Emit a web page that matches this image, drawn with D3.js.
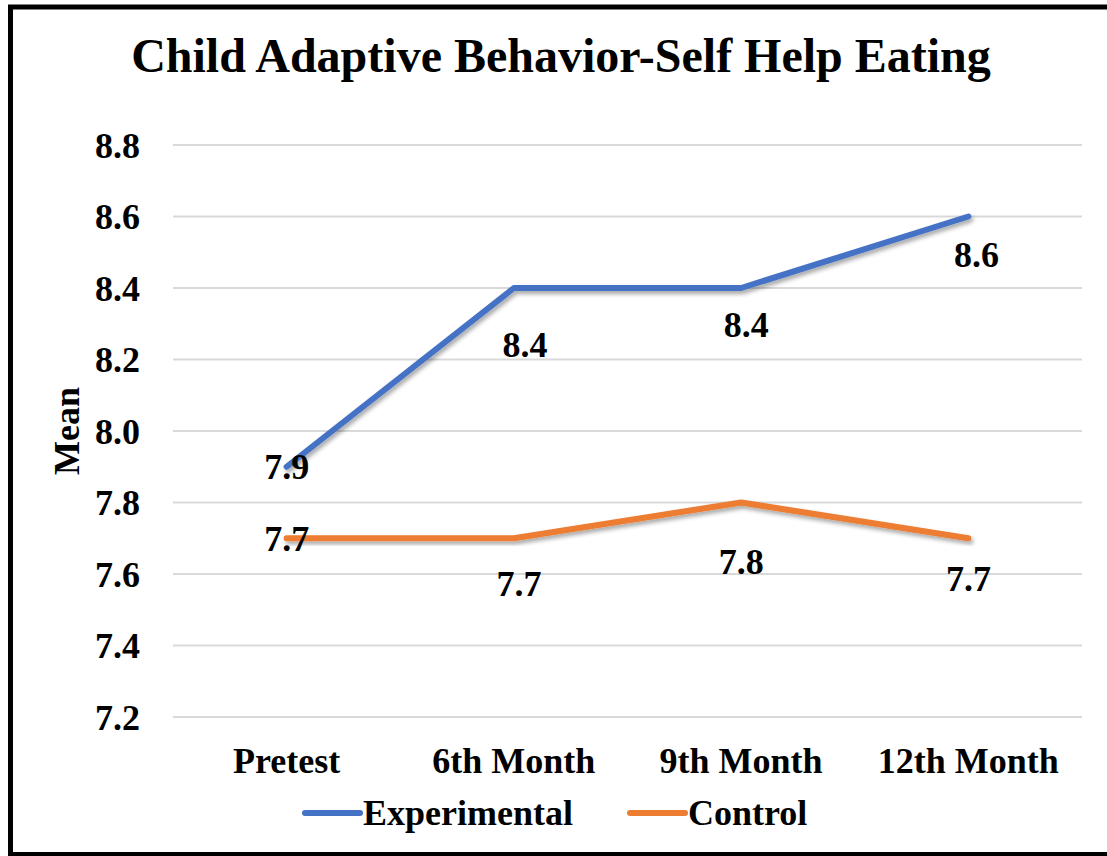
<!DOCTYPE html>
<html>
<head>
<meta charset="utf-8">
<title>Child Adaptive Behavior-Self Help Eating</title>
<script src="https://cdn.jsdelivr.net/npm/d3@7"></script>
<style>
  html, body { margin: 0; padding: 0; background: #fff; }
  svg { display: block; }
</style>
</head>
<body>
<svg id="chart" width="1107" height="856"></svg>
<script>
// Measurement occasions and group means
const categories = ["Pretest", "6th Month", "9th Month", "12th Month"];
const experimental = [7.9, 8.4, 8.4, 8.6];
const control = [7.7, 7.7, 7.8, 7.7];
const yTicks = [7.2, 7.4, 7.6, 7.8, 8.0, 8.2, 8.4, 8.6, 8.8];
const seriesNames = ["Experimental", "Control"];

const W = 1107, H = 856;
const FONT = "Liberation Serif";
const plot = { left: 173, right: 1082, top: 145, bottom: 717 };

const svg = d3.select("#chart")
  .attr("font-family", FONT).attr("font-weight", "bold");

// soft shadow under the series lines
const defs = svg.append("defs");
const shadow = defs.append("filter").attr("id", "lineShadow")
  .attr("x", "-10%").attr("y", "-10%").attr("width", "120%").attr("height", "130%");
shadow.append("feDropShadow")
  .attr("dx", 2).attr("dy", 3).attr("stdDeviation", 2)
  .attr("flood-color", "#000").attr("flood-opacity", 0.35);

svg.append("rect").attr("width", W).attr("height", H).attr("fill", "#fff");

const x = d3.scaleBand().domain(categories).range([plot.left, plot.right]);
const y = d3.scaleLinear().domain([7.2, 8.8]).range([plot.bottom, plot.top]);
const cx = c => x(c) + x.bandwidth() / 2;

// horizontal gridlines
svg.append("g").selectAll("line").data(yTicks).join("line")
  .attr("x1", plot.left).attr("x2", plot.right)
  .attr("y1", d => y(d)).attr("y2", d => y(d))
  .attr("stroke", "#d9d9d9").attr("stroke-width", 2);

// y axis labels
const yAxis = svg.append("g")
  .attr("transform", `translate(${plot.left - 33},0)`)
  .call(d3.axisLeft(y).tickValues(yTicks).tickFormat(d3.format(".1f")).tickSize(0).tickPadding(0));
yAxis.attr("font-family", FONT).attr("font-size", 36).attr("font-weight", "bold");
yAxis.select(".domain").remove();
yAxis.selectAll("text").attr("dy", "0.34em").attr("fill", "#000");

// x axis labels
const xAxis = svg.append("g")
  .attr("transform", `translate(0,${plot.bottom})`)
  .call(d3.axisBottom(x).tickSize(0).tickPadding(0));
xAxis.attr("font-family", FONT).attr("font-size", 36).attr("font-weight", "bold");
xAxis.select(".domain").remove();
xAxis.selectAll("text").attr("y", 56).attr("dy", 0).attr("fill", "#000");

// title and axis title
svg.append("text").attr("x", 561).attr("y", 72).attr("text-anchor", "middle")
  .attr("font-size", 48).text("Child Adaptive Behavior-Self Help Eating");
svg.append("text").attr("transform", "translate(79,431) rotate(-90)")
  .attr("text-anchor", "middle").attr("font-size", 36).text("Mean");

// series lines, with per-point label nudges
const series = [
  { name: seriesNames[0], values: experimental, color: "#4472C4",
    nudge: [[0, 0], [11, 57], [5, 37], [8, 38]] },
  { name: seriesNames[1], values: control, color: "#ED7D31",
    nudge: [[0, 1], [5, 46], [0, 59], [0, 41]] }
];

const line = d3.line().x((d, i) => cx(categories[i])).y(d => y(d));

svg.append("g").selectAll("path").data(series).join("path")
  .attr("d", s => line(s.values))
  .attr("fill", "none").attr("stroke", s => s.color)
  .attr("stroke-width", 6).attr("stroke-linecap", "round").attr("stroke-linejoin", "round")
  .attr("filter", "url(#lineShadow)");

// value labels
series.forEach(s => {
  svg.append("g").selectAll("text").data(s.values).join("text")
    .attr("x", (d, i) => cx(categories[i]) + s.nudge[i][0])
    .attr("y", (d, i) => y(d) + s.nudge[i][1])
    .attr("dy", "0.34em").attr("text-anchor", "middle").attr("font-size", 36)
    .text(d => d3.format(".1f")(d));
});

// legend
const legend = svg.append("g");
const legendItems = [
  { name: seriesNames[0], color: "#4472C4", x: 305 },
  { name: seriesNames[1], color: "#ED7D31", x: 630 }
];
legendItems.forEach(it => {
  legend.append("line").attr("x1", it.x).attr("x2", it.x + 55)
    .attr("y1", 813).attr("y2", 813)
    .attr("stroke", it.color).attr("stroke-width", 6).attr("stroke-linecap", "round");
  legend.append("text").attr("x", it.x + 58).attr("y", 825)
    .attr("font-size", 36).text(it.name);
});

// outer frame
svg.append("rect").attr("x", 10.5).attr("y", 7).attr("width", W + 20).attr("height", 847.5)
  .attr("fill", "none").attr("stroke", "#000").attr("stroke-width", 5);
</script>
</body>
</html>
